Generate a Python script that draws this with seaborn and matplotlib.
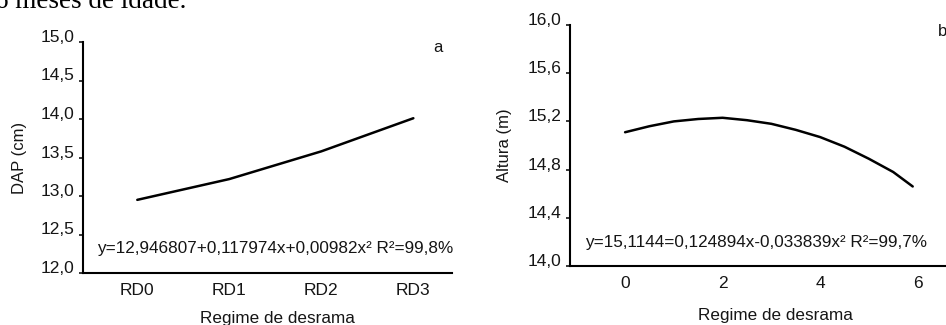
import matplotlib
matplotlib.use("Agg")
import matplotlib.pyplot as plt
import seaborn as sns
import numpy as np
import pandas as pd

# dados
regimes = ["RD0", "RD1", "RD2", "RD3"]
dap = [12.95, 13.22, 13.58, 14.01]

x_desrama = [0, 0.5, 1, 1.5, 2, 2.5, 3, 3.5, 4, 4.5, 5, 5.5, 5.9]
altura = [15.11, 15.16, 15.20, 15.22, 15.23, 15.21, 15.18, 15.13, 15.07, 14.99, 14.89, 14.78, 14.66]

dap_ticks = [12.0, 12.5, 13.0, 13.5, 14.0, 14.5, 15.0]
alt_ticks = [14.0, 14.4, 14.8, 15.2, 15.6, 16.0]
x_ticks = [0, 2, 4, 6]

eq_a = "y=12,946807+0,117974x+0,00982x² R²=99,8%"
eq_b = "y=15,1144=0,124894x-0,033839x² R²=99,7%"

sns.set_style("white")
plt.rcParams["font.family"] = ["Liberation Sans", "DejaVu Sans"]
cor = "#151515"

fig = plt.figure(figsize=(9.46, 3.25), dpi=100)
ax1 = fig.add_axes([83 / 946, 1 - 273 / 325, 369 / 946, 231 / 325])
ax2 = fig.add_axes([570 / 946, 1 - 266 / 325, 390 / 946, 241 / 325])

# Grafico a
df_a = pd.DataFrame({"pos": range(len(regimes)), "dap": dap})
sns.lineplot(data=df_a, x="pos", y="dap", ax=ax1, color="black", linewidth=1.8)
ax1.set_xlim(-0.59, 3.42)
ax1.set_ylim(12.0, 15.0)
ax1.set_xticks(range(len(regimes)))
ax1.set_xticklabels(regimes)
ax1.set_yticks(dap_ticks)
ax1.set_yticklabels([f"{v:.1f}".replace(".", ",") for v in dap_ticks])
ax1.set_ylabel("DAP (cm)", fontsize=12, color=cor)
ax1.set_xlabel("Regime de desrama", fontsize=12.3, color=cor)
ax1.yaxis.set_label_coords(-0.152, 0.5)
ax1.xaxis.set_label_coords(0.526, -0.165)
ax1.text(0.038, 0.087, eq_a, transform=ax1.transAxes, fontsize=12.3, color=cor, va="baseline")
ax1.text(0.962, 0.978, "a", transform=ax1.transAxes, fontsize=12, color=cor, ha="center", va="center")

# Grafico b
df_b = pd.DataFrame({"x": x_desrama, "altura": altura})
sns.lineplot(data=df_b, x="x", y="altura", ax=ax2, color="black", linewidth=1.8)
ax2.set_xlim(-1.13, 6.87)
ax2.set_ylim(14.0, 16.0)
ax2.set_xticks(x_ticks)
ax2.set_yticks(alt_ticks)
ax2.set_yticklabels([f"{v:.1f}".replace(".", ",") for v in alt_ticks])
ax2.set_ylabel("Altura (m)", fontsize=12, color=cor)
ax2.set_xlabel("Regime de desrama", fontsize=12.3, color=cor)
ax2.yaxis.set_label_coords(-0.149, 0.5)
ax2.xaxis.set_label_coords(0.526, -0.174)
ax2.text(0.038, 0.079, eq_b, transform=ax2.transAxes, fontsize=12.3, color=cor, va="baseline")
ax2.text(0.954, 0.971, "b", transform=ax2.transAxes, fontsize=12, color=cor, ha="center", va="center")

for ax in (ax1, ax2):
    sns.despine(ax=ax)
    for s in ("left", "bottom"):
        ax.spines[s].set_linewidth(1.5)
        ax.spines[s].set_color("black")
    ax.tick_params(axis="y", direction="out", length=3, width=1.2, pad=3, labelsize=12.5, colors=cor, left=True)
    ax.tick_params(axis="x", length=0, pad=7, labelsize=12.5, colors=cor)
    for lab in ax.get_yticklabels():
        lab.set_va("baseline")

# trecho do texto acima da figura
fig.text(-5 / 946, 1 - 8 / 325, "6 meses de idade.", fontsize=19.5, family="Liberation Serif", va="baseline", color="black")

fig.savefig("out.png", dpi=100)
